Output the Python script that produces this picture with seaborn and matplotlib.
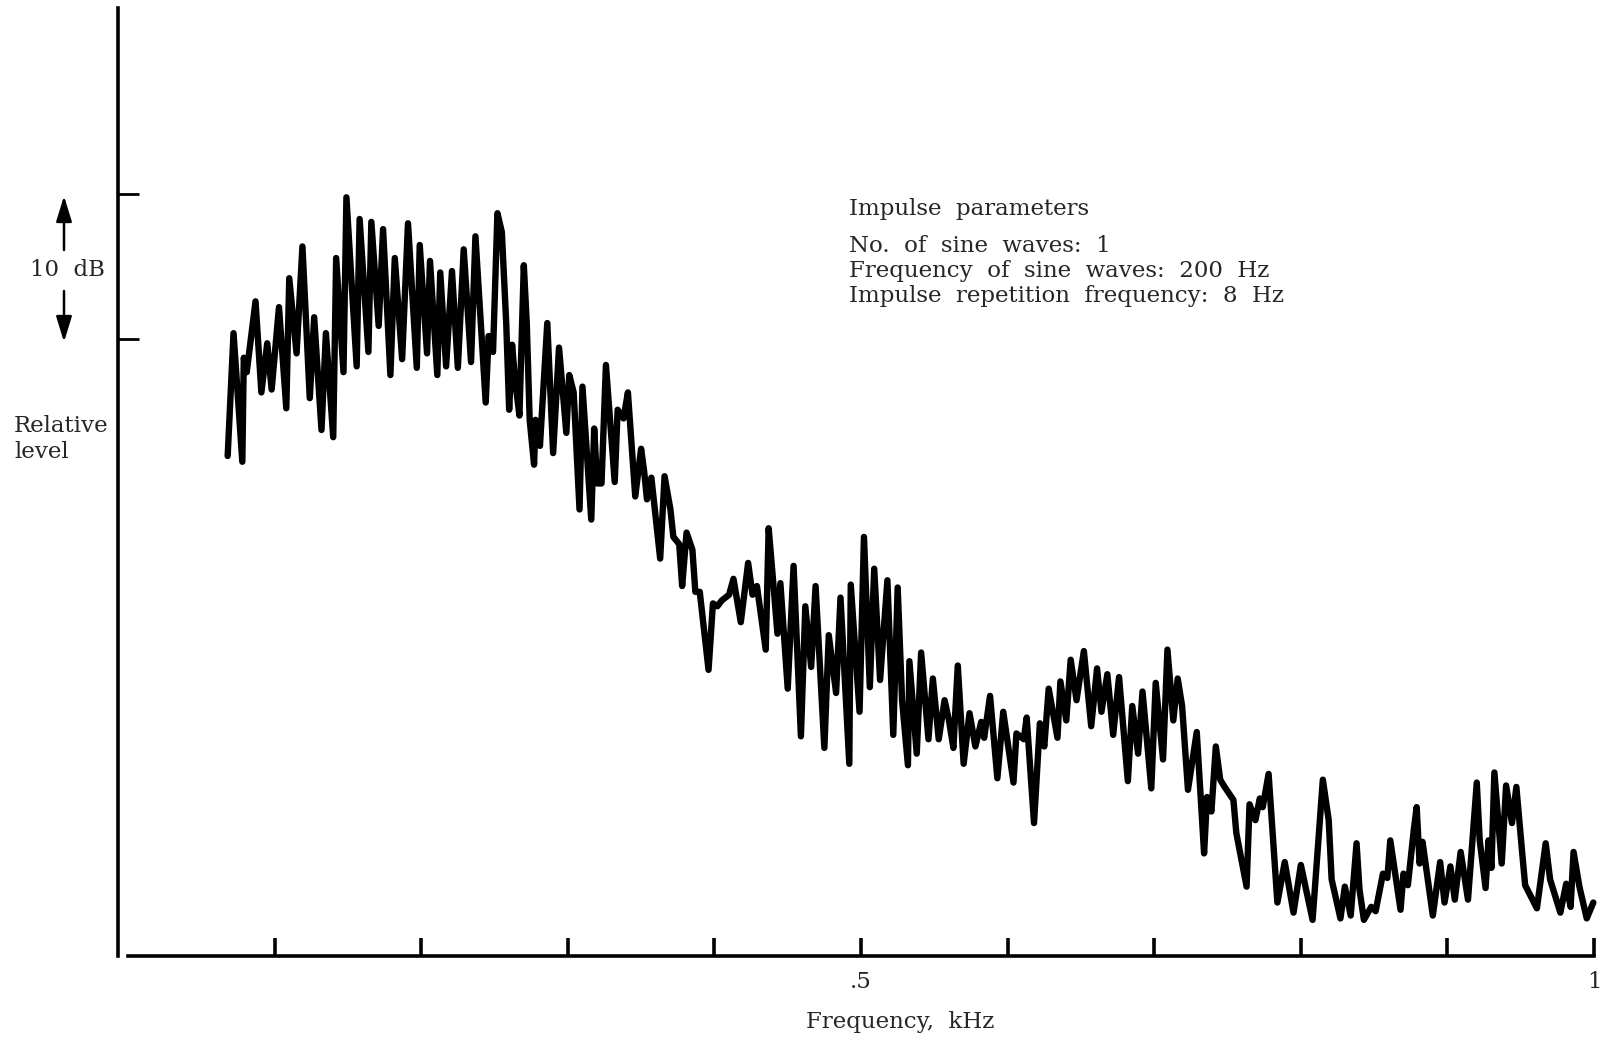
import matplotlib
matplotlib.use("Agg")
import matplotlib.pyplot as plt
import seaborn as sns

# spectrum trace (frequency in kHz, relative level in dB)
freq_khz = [
    0.068, 0.072, 0.078, 0.079, 0.081, 0.087, 0.091, 0.095, 0.098, 0.103,
    0.108, 0.110, 0.115, 0.119, 0.124, 0.127, 0.132, 0.135, 0.140, 0.142,
    0.147, 0.149, 0.156, 0.158, 0.164, 0.166, 0.171, 0.174, 0.179, 0.182,
    0.187, 0.191, 0.197, 0.199, 0.204, 0.206, 0.211, 0.213, 0.217, 0.221,
    0.225, 0.229, 0.234, 0.237, 0.244, 0.246, 0.249, 0.252, 0.255, 0.258,
    0.260, 0.262, 0.264, 0.267, 0.270, 0.272, 0.274, 0.277, 0.278, 0.281,
    0.286, 0.290, 0.294, 0.299, 0.301, 0.304, 0.308, 0.310, 0.316, 0.318,
    0.320, 0.323, 0.326, 0.332, 0.334, 0.338, 0.341, 0.346, 0.350, 0.352,
    0.354, 0.357, 0.363, 0.366, 0.370, 0.372, 0.376, 0.378, 0.381, 0.385,
    0.387, 0.390, 0.396, 0.399, 0.402, 0.405, 0.410, 0.413, 0.418, 0.423,
    0.426, 0.429, 0.435, 0.437, 0.440, 0.443, 0.445, 0.450, 0.454, 0.459,
    0.462, 0.466, 0.469, 0.475, 0.478, 0.483, 0.486, 0.492, 0.493, 0.499,
    0.502, 0.506, 0.509, 0.513, 0.518, 0.522, 0.525, 0.528, 0.532, 0.533,
    0.538, 0.541, 0.546, 0.549, 0.553, 0.557, 0.560, 0.563, 0.566, 0.570,
    0.574, 0.578, 0.582, 0.584, 0.588, 0.593, 0.597, 0.604, 0.606, 0.611,
    0.613, 0.618, 0.622, 0.625, 0.628, 0.634, 0.636, 0.640, 0.643, 0.647,
    0.652, 0.657, 0.661, 0.664, 0.668, 0.672, 0.676, 0.682, 0.685, 0.689,
    0.692, 0.698, 0.701, 0.706, 0.709, 0.713, 0.716, 0.719, 0.723, 0.729,
    0.734, 0.736, 0.739, 0.742, 0.745, 0.748, 0.754, 0.756, 0.763, 0.765,
    0.769, 0.772, 0.774, 0.778, 0.784, 0.789, 0.795, 0.800, 0.808, 0.815,
    0.819, 0.821, 0.827, 0.830, 0.834, 0.838, 0.840, 0.843, 0.848, 0.851,
    0.856, 0.859, 0.861, 0.868, 0.870, 0.873, 0.877, 0.879, 0.881, 0.883,
    0.890, 0.895, 0.898, 0.902, 0.905, 0.909, 0.914, 0.920, 0.922, 0.926,
    0.928, 0.930, 0.932, 0.937, 0.940, 0.944, 0.947, 0.951, 0.953, 0.961,
    0.967, 0.970, 0.977, 0.981, 0.984, 0.986, 0.990, 0.995, 0.9995,
]
level_db = [
    -8.1, 0.4, -8.5, -1.3, -2.3, 2.6, -3.7, -0.3, -3.5, 2.2,
    -4.8, 4.2, -1.0, 6.4, -4.1, 1.5, -6.3, 0.4, -6.8, 5.6,
    -2.3, 9.8, -1.9, 8.3, -0.9, 8.1, 0.9, 7.6, -2.5, 5.6,
    -1.4, 8.0, -2.0, 6.5, -1.0, 5.4, -2.5, 4.6, -1.9, 4.7,
    -2.0, 6.2, -1.6, 7.1, -4.4, 0.2, -0.9, 8.7, 7.4, 1.1,
    -4.9, -0.4, -2.8, -5.3, 5.1, 1.1, -5.6, -8.7, -5.6, -7.4,
    1.1, -7.9, -0.6, -6.5, -2.5, -3.7, -11.8, -3.3, -12.5, -6.2,
    -10.0, -10.0, -1.8, -9.9, -4.9, -5.5, -3.7, -10.9, -7.6, -9.1,
    -11.1, -9.6, -15.2, -9.5, -11.8, -13.7, -14.2, -17.1, -13.4, -14.6,
    -17.5, -17.5, -22.9, -18.3, -18.5, -18.1, -17.7, -16.6, -19.6, -15.5,
    -17.7, -17.1, -21.5, -13.1, -16.7, -20.4, -16.9, -24.2, -15.7, -27.5,
    -18.5, -22.7, -17.1, -28.3, -20.5, -24.5, -17.9, -29.4, -17.0, -25.8,
    -13.7, -24.1, -15.9, -23.6, -16.7, -27.4, -17.2, -25.0, -29.5, -22.3,
    -28.7, -21.7, -27.7, -23.5, -27.7, -25.0, -26.4, -28.3, -22.6, -29.4,
    -25.9, -28.2, -26.5, -27.6, -24.7, -30.4, -25.8, -30.7, -27.3, -27.7,
    -26.2, -33.5, -26.6, -28.2, -24.2, -27.6, -23.7, -26.4, -22.2, -25.0,
    -21.6, -26.8, -22.8, -25.8, -23.2, -27.4, -23.4, -30.6, -25.4, -28.7,
    -24.4, -31.1, -23.8, -29.1, -21.5, -26.4, -23.5, -25.4, -31.2, -27.2,
    -35.6, -31.7, -32.7, -28.2, -30.5, -31.0, -31.9, -34.2, -37.9, -32.2,
    -33.3, -31.8, -32.4, -30.1, -39.0, -36.2, -39.7, -36.4, -40.2, -30.5,
    -33.3, -37.4, -40.1, -37.9, -39.9, -34.9, -38.1, -40.2, -39.3, -39.6,
    -37.0, -37.3, -34.7, -39.5, -37.0, -37.8, -34.0, -32.4, -36.3, -34.8,
    -39.9, -36.2, -39.0, -36.5, -38.8, -35.5, -38.8, -30.7, -34.7, -38.0,
    -34.7, -36.6, -30.0, -36.3, -30.9, -33.5, -31.0, -35.6, -37.8, -39.4,
    -34.9, -37.4, -39.7, -37.7, -39.3, -35.5, -37.9, -40.1, -39.0,
]

y_ticks_db = [0, 10]
x_ticks_khz = [0.1, 0.2, 0.3, 0.4, 0.5, 0.6, 0.7, 0.8, 0.9, 1.0]
x_tick_labels = ["", "", "", "", ".5", "", "", "", "", "1"]
param_title = "Impulse  parameters"
param_lines = [
    "No.  of  sine  waves:  1",
    "Frequency  of  sine  waves:  200  Hz",
    "Impulse  repetition  frequency:  8  Hz",
]

sns.set_style("white")
plt.rcParams["font.family"] = ["DejaVu Serif"]
FS = 16.5

W, H = 1607, 1041
fig = plt.figure(figsize=(W / 100, H / 100), dpi=100)
ax = fig.add_axes([118 / W, 1 - 956 / H, (1597 - 118) / W, (956 - 8) / H])

sns.lineplot(x=freq_khz, y=level_db, ax=ax, color="black", linewidth=4.6,
             estimator=None, sort=False)

ax.set_xlim(-0.0068, 1.002)
ax.set_ylim(-42.7, 22.9)

for side in ["top", "right"]:
    ax.spines[side].set_visible(False)
ax.spines["left"].set_linewidth(2.6)
ax.spines["bottom"].set_linewidth(2.6)
ax.spines["bottom"].set_bounds(0, 1.0)
ax.spines["left"].set_color("black")
ax.spines["bottom"].set_color("black")

ax.set_xticks(x_ticks_khz)
ax.set_xticklabels(x_tick_labels, fontsize=FS)
ax.set_yticks(y_ticks_db)
ax.set_yticklabels([])
ax.tick_params(axis="x", bottom=True, direction="in", length=13, width=2.6,
               pad=11, color="black")
ax.tick_params(axis="y", left=True, direction="in", length=15, width=2.0,
               color="black")
ax.set_xlabel("")
ax.set_ylabel("")

fig.text(900 / W, 1 - 1022 / H, "Frequency,  kHz", ha="center", va="center", fontsize=FS)
fig.text(14 / W, 1 - 426 / H, "Relative", ha="left", va="center", fontsize=FS)
fig.text(14 / W, 1 - 452 / H, "level", ha="left", va="center", fontsize=FS)
fig.text(67 / W, 1 - 270 / H, "10  dB", ha="center", va="center", fontsize=FS)

arrow = dict(arrowstyle="-|>,head_length=1.3,head_width=0.4", color="black",
             lw=1.8, mutation_scale=12, shrinkA=0, shrinkB=0)
fig.add_artist(matplotlib.patches.FancyArrowPatch(
    (64 / W, 1 - 250 / H), (64 / W, 1 - 196 / H), transform=fig.transFigure, **arrow))
fig.add_artist(matplotlib.patches.FancyArrowPatch(
    (64 / W, 1 - 291 / H), (64 / W, 1 - 342 / H), transform=fig.transFigure, **arrow))

fig.text(849 / W, 1 - 209 / H, param_title, ha="left", va="center", fontsize=FS)
for i, line in enumerate(param_lines):
    fig.text(849 / W, 1 - (246 + 25 * i) / H, line, ha="left", va="center", fontsize=FS)

plt.savefig("out.png", dpi=100)
